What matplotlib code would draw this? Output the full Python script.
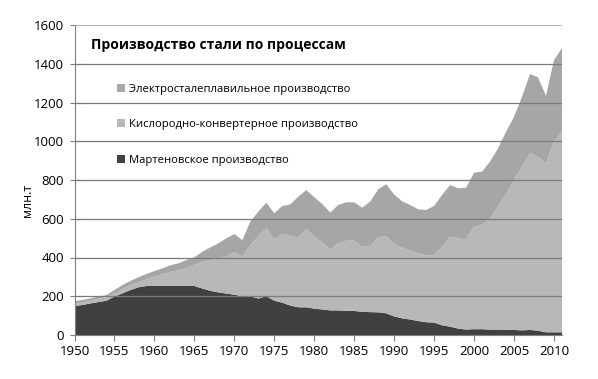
import matplotlib
matplotlib.use("Agg")
import matplotlib.pyplot as plt
from matplotlib.patches import Patch

plt.rcParams['font.family'] = ['Open Sans', 'DejaVu Sans']

years = list(range(1950, 2012))
open_hearth = [150, 155, 163, 170, 177, 198, 215, 232, 246, 253,
               253, 253, 253, 253, 253, 253, 240, 228, 220, 214,
               208, 200, 200, 188, 200, 177, 167, 152, 143, 143,
               136, 132, 127, 127, 125, 124, 120, 118, 117, 112,
               96, 86, 80, 72, 66, 64, 50, 43, 33, 28,
               30, 30, 28, 28, 27, 26, 24, 26, 22, 14,
               14, 14]
bof = [10, 12, 14, 17, 19, 17, 21, 26, 24, 34,
       48, 60, 72, 82, 91, 108, 137, 159, 174, 190,
       220, 206, 264, 323, 351, 317, 354, 359, 361, 403,
       375, 345, 315, 346, 362, 363, 336, 338, 387, 399,
       372, 364, 355, 350, 346, 348, 406, 465, 466, 466,
       529, 538, 574, 634, 704, 774, 845, 912, 898, 872,
       984, 1035]
eaf = [15, 14, 12, 11, 10, 17, 22, 21, 28, 28,
       29, 31, 35, 35, 43, 40, 53, 65, 79, 95,
       93, 84, 121, 126, 132, 134, 145, 163, 210, 202,
       200, 199, 190, 198, 198, 198, 201, 232, 248, 267,
       257, 240, 236, 227, 233, 254, 267, 266, 258, 266,
       279, 275, 293, 301, 318, 327, 361, 409, 410, 348,
       421, 431]

labels = ['Электросталеплавильное производство',
          'Кислородно-конвертерное производство',
          'Мартеновское производство']
title = 'Производство стали по процессам'
ylabel = 'млн.т'
yticks = list(range(0, 1601, 200))
xticks = list(range(1950, 2011, 5))

c_oh = '#404040'
c_bof = '#b8b8b8'
c_eaf = '#a6a6a6'

fig = plt.figure(figsize=(5.98, 3.79), dpi=100)
ax = fig.add_axes([74.5/598, 44/379, 487.5/598, 310/379])
ax.stackplot(years, open_hearth, bof, eaf, colors=[c_oh, c_bof, c_eaf],
             linewidth=0, zorder=1)

ax.set_xlim(1950, 2011)
ax.set_ylim(0, 1600)
ax.set_yticks(yticks)
ax.set_xticks(xticks)
ax.tick_params(axis='both', labelsize=9.5, colors='#000000')
ax.tick_params(axis='y', direction='inout', length=7, width=0.8, color='#808080', pad=4)
ax.tick_params(axis='x', direction='out', length=4, width=0.8, color='#808080', pad=3)

for v in yticks[1:-1]:
    ax.axhline(v, color='#7a7a7a', linewidth=0.9, zorder=3)
ax.axhline(yticks[-1], color='#b4b4b4', linewidth=1.5, zorder=3)

for s in ['top', 'right']:
    ax.spines[s].set_visible(False)
ax.spines['left'].set_color('#808080')
ax.spines['bottom'].set_color('#808080')
ax.spines['left'].set_linewidth(0.8)
ax.spines['bottom'].set_linewidth(0.8)

ax.text((91-74.5)/487.5, (335-45)/310, title, transform=ax.transAxes,
        fontsize=10.0, fontweight='bold', va='center', ha='left')

handles = [Patch(facecolor=c_eaf, edgecolor='none'),
           Patch(facecolor=c_bof, edgecolor='none'),
           Patch(facecolor=c_oh, edgecolor='none')]
leg = ax.legend(handles, labels, loc='upper left',
                bbox_to_anchor=((117-74.5)/487.5, (335-84)/310),
                frameon=False, fontsize=8.15, handlelength=0.7, handleheight=0.7,
                handletextpad=0.4, labelspacing=2.15, borderpad=0, borderaxespad=0)

fig.text(28/598, 1-200/379, ylabel, rotation=90, ha='center', va='center', fontsize=9)

fig.savefig('out.png', dpi=100)
